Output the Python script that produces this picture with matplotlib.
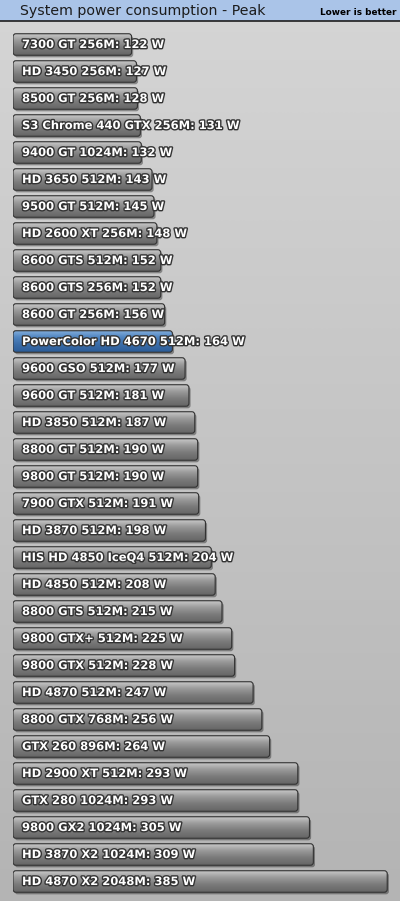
import numpy as np
import matplotlib
matplotlib.use("Agg")
import matplotlib.pyplot as plt
import matplotlib.patheffects as pe
from matplotlib.patches import FancyBboxPatch, Rectangle
from matplotlib.colors import LinearSegmentedColormap
from matplotlib.lines import Line2D

# data, top to bottom
cards = [
    "7300 GT 256M", "HD 3450 256M", "8500 GT 256M", "S3 Chrome 440 GTX 256M",
    "9400 GT 1024M", "HD 3650 512M", "9500 GT 512M", "HD 2600 XT 256M",
    "8600 GTS 512M", "8600 GTS 256M", "8600 GT 256M", "PowerColor HD 4670 512M",
    "9600 GSO 512M", "9600 GT 512M", "HD 3850 512M", "8800 GT 512M",
    "9800 GT 512M", "7900 GTX 512M", "HD 3870 512M", "HIS HD 4850 IceQ4 512M",
    "HD 4850 512M", "8800 GTS 512M", "9800 GTX+ 512M", "9800 GTX 512M",
    "HD 4870 512M", "8800 GTX 768M", "GTX 260 896M", "HD 2900 XT 512M",
    "GTX 280 1024M", "9800 GX2 1024M", "HD 3870 X2 1024M", "HD 4870 X2 2048M",
]
watts = [122, 127, 128, 131, 132, 143, 145, 148, 152, 152, 156, 164,
         177, 181, 187, 190, 190, 191, 198, 204, 208, 215, 225, 228,
         247, 256, 264, 293, 293, 305, 309, 385]
highlight = "PowerColor HD 4670 512M"

W, H = 400, 901
fig = plt.figure(figsize=(W / 100, H / 100), dpi=100)

# gray gradient background
bg = fig.add_axes([0, 0, 1, 1])
bg_cmap = LinearSegmentedColormap.from_list("bg", ["#d5d5d5", "#b4b4b4"])
bg.imshow(np.linspace(0, 1, 100).reshape(-1, 1), cmap=bg_cmap, aspect="auto",
          extent=(0, 1, 0, 1), interpolation="bicubic")
bg.set_axis_off()

# title strip
top = 21
fig.add_artist(Rectangle((0, 1 - top / H), 1, top / H, transform=fig.transFigure,
                         facecolor="#aac4e8", edgecolor="none"))
fig.add_artist(Line2D([0, 1], [1 - 20.5 / H] * 2, transform=fig.transFigure,
                      color="#1e1e1e", lw=1.2))
fig.text(20 / W, 1 - 10.5 / H, "System power consumption - Peak", fontsize=10.2,
         color="#1c1c1c", va="center", ha="left")
fig.text(397 / W, 1 - 12.5 / H, "Lower is better", fontsize=6.4, fontweight="bold",
         color="black", va="center", ha="right")

# bar axes
px_per_w = 0.972
x0 = 13
row0, step = 44.5, 27
ax = fig.add_axes([x0 / W, 0, 1 - x0 / W, 1 - top / H])
ax.patch.set_alpha(0)
ax.set_axis_off()

gray_cmap = LinearSegmentedColormap.from_list("g", ["#cdcdcd", "#9a9a9a", "#7a7a7a", "#666666"])
blue_cmap = LinearSegmentedColormap.from_list("b", ["#86b1de", "#4f84c0", "#3a6ca8", "#2c5d98"])
grad = np.linspace(0, 1, 60).reshape(-1, 1)
h = 21.5 / step
aspect = px_per_w / step

for i, (name, v) in enumerate(zip(cards, watts)):
    cmap = blue_cmap if name == highlight else gray_cmap
    base = FancyBboxPatch((0, i - h / 2), v, h, boxstyle="round,pad=0,rounding_size=3",
                          mutation_aspect=aspect, facecolor="#777777", edgecolor="none",
                          zorder=1,
                          path_effects=[pe.SimplePatchShadow(offset=(1.2, -1.5), shadow_rgbFace="k", alpha=0.35),
                                        pe.Normal()])
    ax.add_patch(base)
    im = ax.imshow(grad, cmap=cmap, aspect="auto", extent=(0, v, i + h / 2, i - h / 2),
                   interpolation="bicubic", zorder=2)
    im.set_clip_path(base)
    ax.add_patch(FancyBboxPatch((0, i - h / 2), v, h, boxstyle="round,pad=0,rounding_size=3",
                                mutation_aspect=aspect, facecolor="none", edgecolor="#333333",
                                lw=0.8, zorder=3))
    ax.annotate(f"{name}: {v} W", xy=(0, i), xytext=(6.5, 0), textcoords="offset points",
                va="center", ha="left", color="white", fontweight="bold", fontsize=8.3,
                zorder=5,
                path_effects=[pe.Stroke(linewidth=2.0, foreground="#333333"), pe.Normal()])

ax.set_xlim(0, (W - x0) / px_per_w)
ax.set_ylim((H - row0) / step, (top - row0) / step)

fig.savefig("out.png", dpi=100)
